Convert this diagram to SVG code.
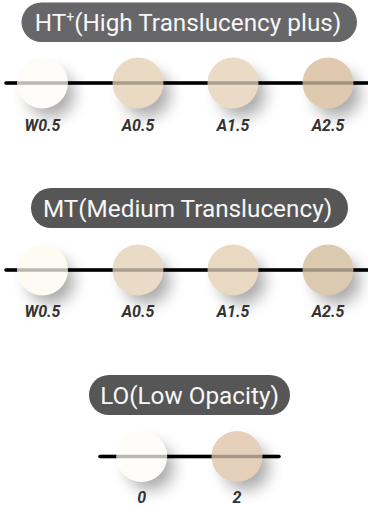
<svg xmlns="http://www.w3.org/2000/svg" width="368" height="507" viewBox="0 0 368 507">
  <defs>
    <filter id="soft" x="-80%" y="-80%" width="260%" height="260%">
      <feGaussianBlur stdDeviation="8"/>
    </filter>
    <style>
      .pill { fill: #565656; }
      .pill-light { fill: #67676a; }
      .title { font-family: Roboto, "Liberation Sans", sans-serif; font-size: 24.3px; fill: #f7f7f7; text-anchor: middle; }
      .shade { fill: #000; opacity: 0.34; filter: url(#soft); }
      .rail { stroke: #000; stroke-width: 3.5; stroke-linecap: round; fill: none; }
      .rail-over { stroke: #000; stroke-width: 3.5; stroke-linecap: round; fill: none; opacity: 0.27; }
      .tag { font-family: Roboto, "Liberation Sans", sans-serif; font-size: 16px; font-weight: bold; font-style: italic; fill: #333; text-anchor: middle; }
    </style>
  </defs>

  <rect width="368" height="507" fill="#fff"/>

  <!-- HT+ row -->
  <g id="ht-title">
    <rect class="pill-light" x="21.5" y="2.5" width="335.5" height="39.5" rx="19.75"/>
    <text class="title" x="188" y="31">HT<tspan font-size="14" dy="-9">+</tspan><tspan dy="9">(High Translucency plus)</tspan></text>
  </g>
  <g id="ht-shadows">
    <circle class="shade" cx="51" cy="94" r="23"/>
    <circle class="shade" cx="147" cy="94" r="23"/>
    <circle class="shade" cx="242" cy="94" r="23"/>
    <circle class="shade" cx="337" cy="94" r="23"/>
  </g>
  <g id="ht-connectors">
    <line class="rail" x1="6" y1="83" x2="370" y2="83"/>
  </g>
  <g id="ht-w05"><circle cx="42.5" cy="83" r="25.5" fill="#fefcf8"/><text class="tag" x="42.5" y="130.5">W0.5</text></g>
  <g id="ht-a05"><circle cx="138" cy="83" r="25.5" fill="#ead9c3"/><text class="tag" x="138" y="130.5">A0.5</text></g>
  <g id="ht-a15"><circle cx="233" cy="83" r="25.5" fill="#ebdac6"/><text class="tag" x="233" y="130.5">A1.5</text></g>
  <g id="ht-a25"><circle cx="328" cy="83" r="25.5" fill="#dfcab0"/><text class="tag" x="328" y="130.5">A2.5</text></g>
  <line class="rail-over" x1="6" y1="83" x2="370" y2="83"/>

  <!-- MT row -->
  <g id="mt-title">
    <rect class="pill" x="31" y="188" width="317" height="40" rx="20"/>
    <text class="title" x="187.5" y="216.5">MT(Medium Translucency)</text>
  </g>
  <g id="mt-shadows">
    <circle class="shade" cx="51" cy="281" r="23"/>
    <circle class="shade" cx="147" cy="281" r="23"/>
    <circle class="shade" cx="242" cy="281" r="23"/>
    <circle class="shade" cx="337" cy="281" r="23"/>
  </g>
  <g id="mt-connectors">
    <line class="rail" x1="6" y1="270" x2="370" y2="270"/>
  </g>
  <g id="mt-w05"><circle cx="42.5" cy="270" r="25.5" fill="#fefbf3"/><text class="tag" x="42.5" y="317">W0.5</text></g>
  <g id="mt-a05"><circle cx="138" cy="270" r="25.5" fill="#e9dbc5"/><text class="tag" x="138" y="317">A0.5</text></g>
  <g id="mt-a15"><circle cx="233" cy="270" r="25.5" fill="#e9d8c2"/><text class="tag" x="233" y="317">A1.5</text></g>
  <g id="mt-a25"><circle cx="328" cy="270" r="25.5" fill="#dccab0"/><text class="tag" x="328" y="317">A2.5</text></g>
  <line class="rail-over" x1="6" y1="270" x2="370" y2="270"/>

  <!-- LO row -->
  <g id="lo-title">
    <rect class="pill" x="89" y="375" width="201" height="40" rx="20"/>
    <text class="title" x="189.5" y="403.5">LO(Low Opacity)</text>
  </g>
  <g id="lo-shadows">
    <circle class="shade" cx="150.5" cy="467" r="23"/>
    <circle class="shade" cx="246" cy="467" r="23"/>
  </g>
  <g id="lo-connectors">
    <line class="rail" x1="100" y1="456.5" x2="279" y2="456.5"/>
  </g>
  <g id="lo-0"><circle cx="141.7" cy="456.5" r="25.5" fill="#fefdf9"/><text class="tag" x="141.7" y="503">0</text></g>
  <g id="lo-2"><circle cx="237" cy="456.5" r="25.5" fill="#e6d0bb"/><text class="tag" x="237" y="503">2</text></g>
  <line class="rail-over" x1="100" y1="456.5" x2="279" y2="456.5"/>
</svg>
